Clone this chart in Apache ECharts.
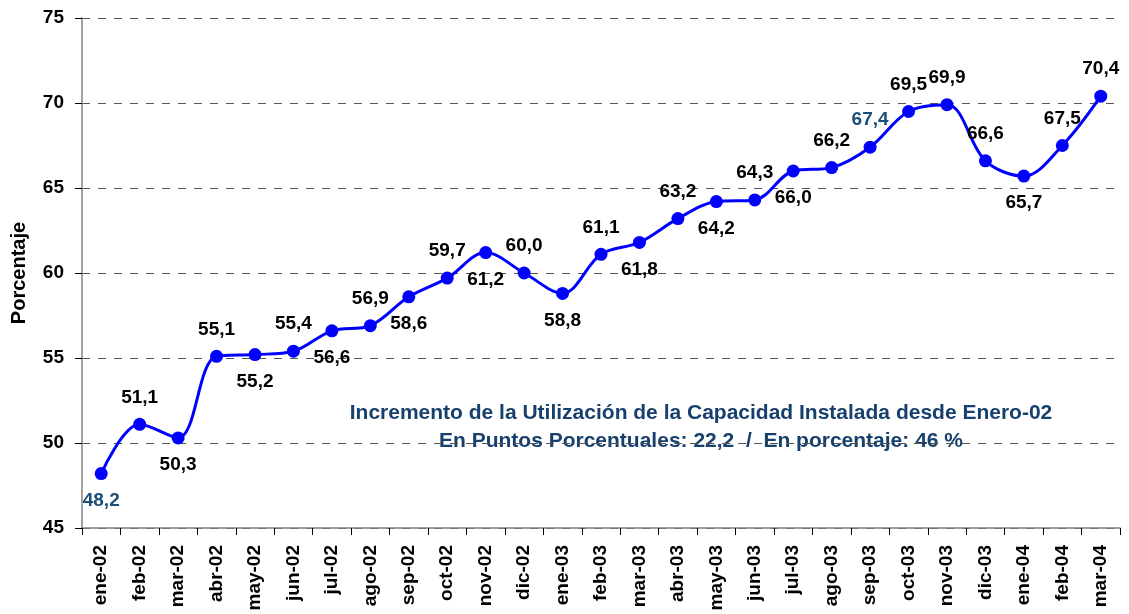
<!DOCTYPE html>
<html><head><meta charset="utf-8">
<script src="https://cdn.jsdelivr.net/npm/echarts@6/dist/echarts.min.js"></script>
<style>html,body{margin:0;padding:0;background:#fff}#c{width:1129px;height:614px}</style>
</head><body><div id="c"></div>
<script>
const categories = ['ene-02','feb-02','mar-02','abr-02','may-02','jun-02','jul-02','ago-02','sep-02','oct-02','nov-02','dic-02','ene-03','feb-03','mar-03','abr-03','may-03','jun-03','jul-03','ago-03','sep-03','oct-03','nov-03','dic-03','ene-04','feb-04','mar-04'];
const values = [48.2,51.1,50.3,55.1,55.2,55.4,56.6,56.9,58.6,59.7,61.2,60.0,58.8,61.1,61.8,63.2,64.2,64.3,66.0,66.2,67.4,69.5,69.9,66.6,65.7,67.5,70.4];
const labelPos = ['bottom','top','bottom','top','bottom','top','bottom','top','bottom','top','bottom','top','bottom','top','bottom','top','bottom','top','bottom','top','top','top','top','top','bottom','top','top'];
const highlight = [0,20];
const annotation = ['Incremento de la Utilización de la Capacidad Instalada desde Enero-02','En Puntos Porcentuales: 22,2  /  En porcentaje: 46 %'];

const chart = echarts.init(document.getElementById('c'));
const font = '"Liberation Sans", Arial, sans-serif';
const data = values.map((v,i)=>({
  value:v,
  label:{position:labelPos[i], color: highlight.includes(i)?'#1B4F7A':'#000'}
}));
chart.setOption({
  animation:false,
  textStyle:{fontFamily:font},
  grid:{left:82,right:9,top:18,bottom:86,containLabel:false,outerBoundsMode:'none'},
  xAxis:{type:'category',data:categories,boundaryGap:true,
    axisLine:{lineStyle:{color:'#808080',width:1.5}},
    axisTick:{show:true,length:7,lineStyle:{color:'#000'}},
    axisLabel:{rotate:90,fontSize:19,fontWeight:'bold',color:'#000',margin:17,fontFamily:font}},
  yAxis:{type:'value',min:45,max:75,interval:5,
    name:'Porcentaje',nameLocation:'middle',nameGap:53,nameRotate:90,
    nameTextStyle:{fontSize:20,fontWeight:'bold',color:'#000',fontFamily:font},
    axisLine:{show:true,lineStyle:{color:'#808080',width:1.5}},
    axisTick:{show:true,length:7,lineStyle:{color:'#000'}},
    axisLabel:{fontSize:19,fontWeight:'bold',color:'#000',margin:18,fontFamily:font},
    splitLine:{lineStyle:{type:[8,8],color:'#555'}}},
  series:[{type:'line',data:data,smooth:0.35,symbol:'circle',symbolSize:13,
    lineStyle:{color:'#0000FF',width:3},itemStyle:{color:'#0000FF'},
    label:{show:true,distance:11,fontSize:19,fontWeight:'bold',fontFamily:font,
      formatter:p=>p.value.toFixed(1).replace('.',',')}}],
  graphic:[
    {type:'text',x:701,y:413,style:{text:annotation[0],font:'bold 21px '+font,fill:'#17406D',align:'center',verticalAlign:'middle'}},
    {type:'text',x:701,y:441,style:{text:annotation[1],font:'bold 21px '+font,fill:'#17406D',align:'center',verticalAlign:'middle'}}
  ]
});
</script></body></html>
